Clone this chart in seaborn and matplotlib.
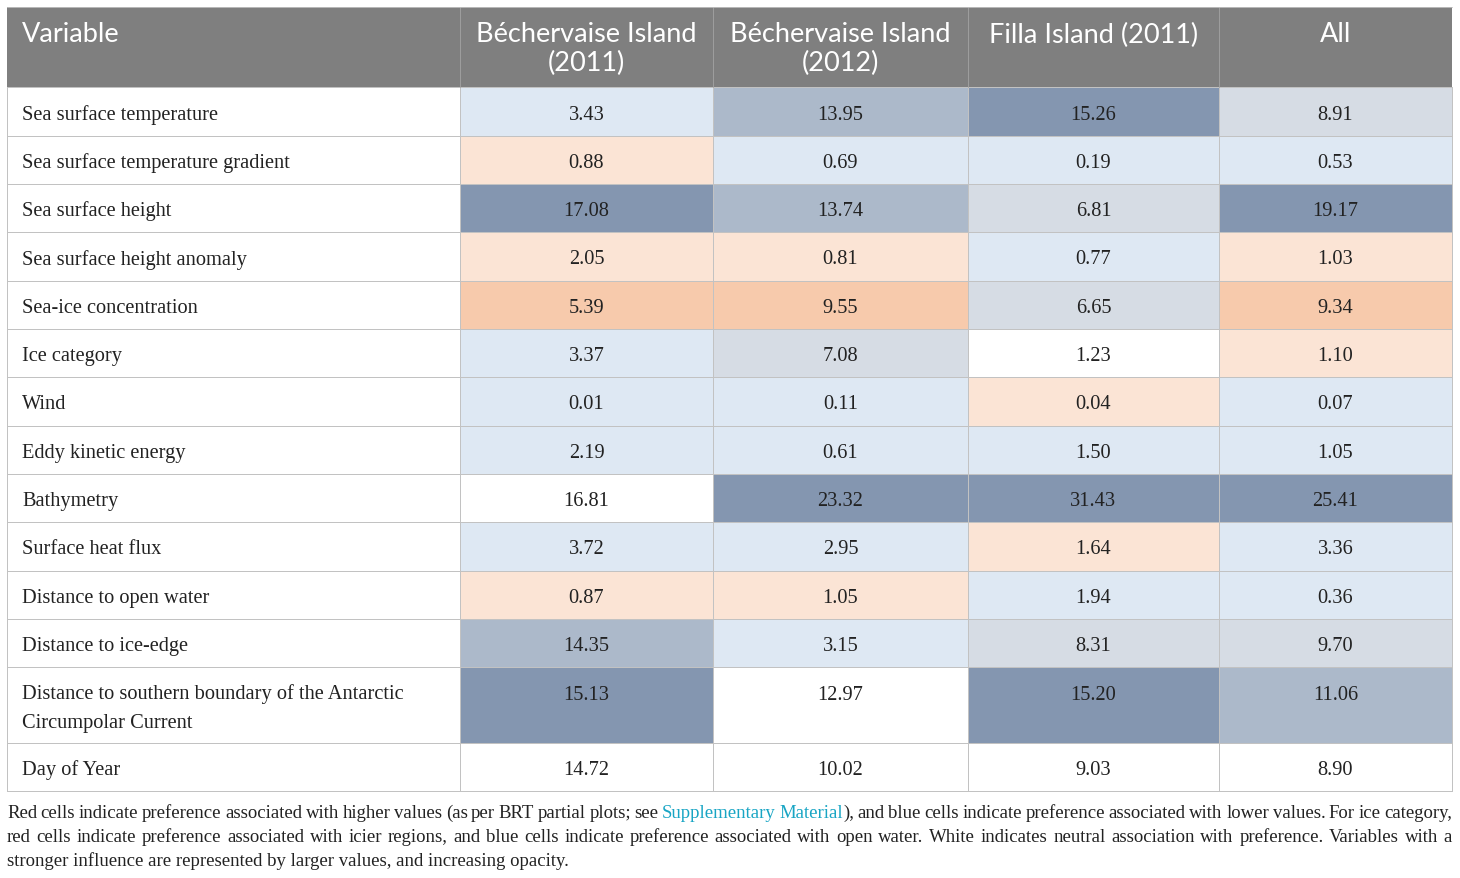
import numpy as np
import pandas as pd
import matplotlib
matplotlib.use('Agg')
import matplotlib.pyplot as plt
from matplotlib.colors import ListedColormap
from matplotlib.patches import Rectangle
import seaborn as sns

# table content
variables = [
    'Sea surface temperature',
    'Sea surface temperature gradient',
    'Sea surface height',
    'Sea surface height anomaly',
    'Sea-ice concentration',
    'Ice category',
    'Wind',
    'Eddy kinetic energy',
    'Bathymetry',
    'Surface heat flux',
    'Distance to open water',
    'Distance to ice-edge',
    'Distance to southern boundary of the Antarctic\nCircumpolar Current',
    'Day of Year',
]
columns = ['Béchervaise Island\n(2011)', 'Béchervaise Island\n(2012)', 'Filla Island (2011)', 'All']

bech_2011 = [3.43, 0.88, 17.08, 2.05, 5.39, 3.37, 0.01, 2.19, 16.81, 3.72, 0.87, 14.35, 15.13, 14.72]
bech_2012 = [13.95, 0.69, 13.74, 0.81, 9.55, 7.08, 0.11, 0.61, 23.32, 2.95, 1.05, 3.15, 12.97, 10.02]
filla_2011 = [15.26, 0.19, 6.81, 0.77, 6.65, 1.23, 0.04, 1.50, 31.43, 1.64, 1.94, 8.31, 15.20, 9.03]
all_sites = [8.91, 0.53, 19.17, 1.03, 9.34, 1.10, 0.07, 1.05, 25.41, 3.36, 0.36, 9.70, 11.06, 8.90]

# preference direction: 1 = higher values (red), -1 = lower values (blue), 0 = neutral (white)
dir_b2011 = [-1, 1, -1, 1, 1, -1, -1, -1, 0, -1, 1, -1, -1, 0]
dir_b2012 = [-1, -1, -1, 1, 1, -1, -1, -1, -1, -1, 1, -1, 0, 0]
dir_f2011 = [-1, -1, -1, -1, -1, 0, 1, -1, -1, 1, -1, -1, -1, 0]
dir_all = [-1, -1, -1, 1, 1, 1, -1, -1, -1, -1, -1, -1, -1, 0]

caption_lines = [
    'Red cells indicate preference associated with higher values (as per BRT partial plots; see '
    'Supplementary Material), and blue cells indicate preference associated with lower values. For ice category,',
    'red cells indicate preference associated with icier regions, and blue cells indicate preference '
    'associated with open water. White indicates neutral association with preference. Variables with a',
    'stronger influence are represented by larger values, and increasing opacity.',
]
link_words = ['Supplementary', 'Material']

vals = pd.DataFrame({c: v for c, v in zip(columns, [bech_2011, bech_2012, filla_2011, all_sites])},
                    index=variables)
dirs = pd.DataFrame({c: v for c, v in zip(columns, [dir_b2011, dir_b2012, dir_f2011, dir_all])},
                    index=variables)

# opacity steps grow with influence
level = np.digitize(vals.values, [5, 10, 15]) + 1
codes = pd.DataFrame(dirs.values * level, index=variables, columns=columns)
codes.insert(0, 'Variable', 0)
annot = np.column_stack([[''] * len(variables), vals.map(lambda v: f'{v:.2f}').values])

# codes -4 .. 2
cmap = ListedColormap(['#8496b0', '#acb9ca', '#d6dce4', '#dee8f3', '#ffffff', '#fbe4d5', '#f7caac'])

serif = ['Liberation Serif', 'DejaVu Serif']
sans = ['Lato', 'DejaVu Sans']
body_fs = 14.7
W, H = 1460, 879
xb = np.array([7, 460, 713, 968, 1219, 1452.0])
yb = np.array([88, 137, 185, 233, 282, 330, 378, 427, 475, 523, 572, 620, 668, 744, 792.0])


def piecewise(kin, kout):
    kin = np.asarray(kin, float)
    kout = np.asarray(kout, float)
    s0 = (kout[1] - kout[0]) / (kin[1] - kin[0])
    s1 = (kout[-1] - kout[-2]) / (kin[-1] - kin[-2])

    def f(v):
        v = np.asarray(v, float)
        out = np.interp(v, kin, kout)
        out = np.where(v < kin[0], kout[0] + (v - kin[0]) * s0, out)
        out = np.where(v > kin[-1], kout[-1] + (v - kin[-1]) * s1, out)
        return out
    return f


fig = plt.figure(figsize=(W / 100, H / 100), dpi=100)
ax = fig.add_axes([xb[0] / W, (H - yb[-1]) / H, (xb[-1] - xb[0]) / W, (yb[-1] - yb[0]) / H])
sns.heatmap(codes, ax=ax, cmap=cmap, vmin=-4.5, vmax=2.5, cbar=False,
            annot=annot, fmt='', linewidths=0.6, linecolor='#c2c2c2',
            xticklabels=False, yticklabels=False,
            annot_kws=dict(fontsize=body_fs, family=serif, color='#222222'))
ax.collections[0].set_clip_on(False)

nx, ny = len(xb) - 1, len(yb) - 1
ax.set_xscale('function', functions=(piecewise(np.arange(nx + 1), xb), piecewise(xb, np.arange(nx + 1))))
ax.set_yscale('function', functions=(piecewise(np.arange(ny + 1), yb), piecewise(yb, np.arange(ny + 1))))
ax.set_xlim(0, nx)
ax.set_ylim(ny, 0)
ax.set_xticks([])
ax.set_yticks([])
for s in ax.spines.values():
    s.set_visible(False)

# numbers in the two-line row sit on the first line; nudge all a bit down
tall = 12
for t in ax.texts:
    x, y = t.get_position()
    i = int(np.floor(y))
    if i == tall:
        y = tall + 25 / 76
    t.set_y(y + 2.5 / (yb[i + 1] - yb[i]))

for i, name in enumerate(variables):
    h = yb[i + 1] - yb[i]
    ax.text(15 / 453, i + 0.5 + 2.5 / h, name, ha='left', va='center', fontsize=body_fs, family=serif,
            color='#222222', linespacing=1.68)

# header and caption in pixel coordinates
bg = fig.add_axes([0, 0, 1, 1])
bg.set_xlim(0, W)
bg.set_ylim(H, 0)
bg.axis('off')
bg.add_patch(Rectangle((xb[0], 8), xb[-1] - xb[0], yb[0] - 8, color='#7f7f7f', lw=0))
for x in xb[1:-1]:
    bg.plot([x, x], [8, yb[0]], color='#a3a3a3', lw=0.6)
bg.plot([xb[0], xb[-1]], [8, 8], color='#c2c2c2', lw=0.6)
bg.text(22, 35, 'Variable', color='white', fontsize=19.5, family=sans, ha='left', va='center')
for j, col in enumerate(columns):
    cx = (xb[j + 1] + xb[j + 2]) / 2
    for k, line in enumerate(col.split('\n')):
        bg.text(cx, 35 + 28 * k, line, color='white', fontsize=19.5, family=sans, ha='center', va='center')

r = fig.canvas.get_renderer()
cap_fs = 13.5
for li, line in enumerate(caption_lines):
    y = 818 + 24 * li
    if li == len(caption_lines) - 1:
        bg.text(xb[0], y, line, fontsize=cap_fs, family=serif, color='#222222', ha='left', va='baseline')
        continue
    items = []
    for w in line.split(' '):
        segs = [(w, '#222222')]
        for lw in link_words:
            if w.startswith(lw):
                segs = [(lw, '#18a5c4')] + ([(w[len(lw):], '#222222')] if len(w) > len(lw) else [])
        texts = [bg.text(0, y, s, fontsize=cap_fs, family=serif, color=c, ha='left', va='baseline')
                 for s, c in segs]
        widths = [t.get_window_extent(renderer=r).width for t in texts]
        items.append((texts, widths))
    total = sum(sum(ws) for _, ws in items)
    gap = (xb[-1] - xb[0] - total) / (len(items) - 1)
    x = xb[0]
    for texts, ws in items:
        for t, w in zip(texts, ws):
            t.set_x(x)
            x += w
        x += gap

fig.savefig('out.png', dpi=100)
